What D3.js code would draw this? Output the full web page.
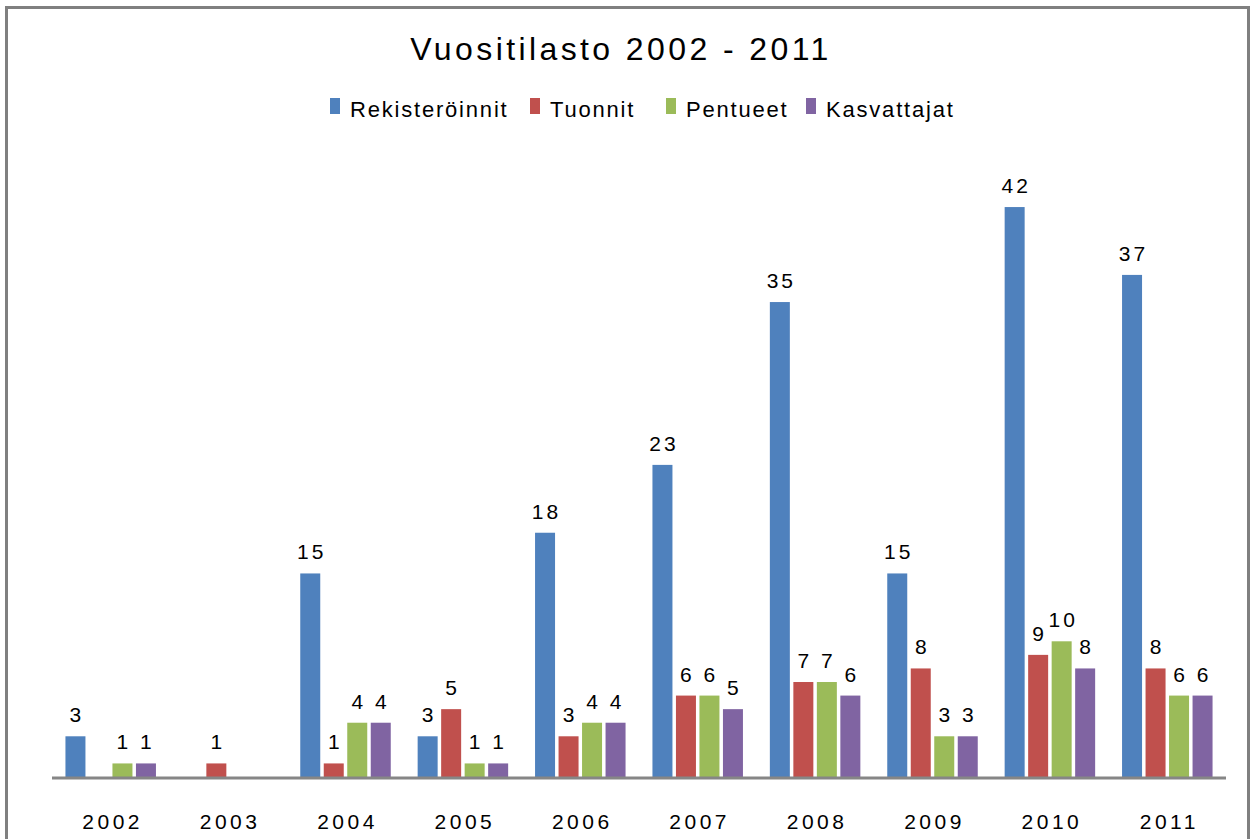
<!DOCTYPE html>
<html>
<head>
<meta charset="utf-8">
<script src="https://cdn.jsdelivr.net/npm/d3@7"></script>
<style>
  body { margin: 0; background: #fff; }
  text { font-family: "Liberation Sans", Arial, sans-serif; fill: #000; }
</style>
</head>
<body>
<div id="viz"></div>
<script>
var width = 1255;
var height = 839;

// data
var years = ["2002", "2003", "2004", "2005", "2006", "2007", "2008", "2009", "2010", "2011"];
var seriesNames = ["Rekisteröinnit", "Tuonnit", "Pentueet", "Kasvattajat"];
var rekisteroinnit = [3, null, 15, 3, 18, 23, 35, 15, 42, 37];
var tuonnit = [null, 1, 1, 5, 3, 6, 7, 8, 9, 8];
var pentueet = [1, null, 4, 1, 4, 6, 7, 3, 10, 6];
var kasvattajat = [1, null, 4, 1, 4, 5, 6, 3, 8, 6];
var colors = ["#4F81BD", "#C0504D", "#9BBB59", "#8064A2"];

var allSeries = [rekisteroinnit, tuonnit, pentueet, kasvattajat];

var svg = d3.select("#viz")
    .append("svg")
    .attr("width", width)
    .attr("height", height);

// frame
svg.append("rect")
    .attr("x", 6.5)
    .attr("y", 7.5)
    .attr("width", 1242)
    .attr("height", 860)
    .attr("fill", "none")
    .attr("stroke", "#808080")
    .attr("stroke-width", 3);

// title
svg.append("text")
    .attr("x", 621)
    .attr("y", 60)
    .attr("text-anchor", "middle")
    .attr("font-size", 32)
    .attr("letter-spacing", 3.4)
    .text("Vuositilasto 2002 - 2011");

// legend
var legendX = [330, 530, 666, 806];
var legend = svg.selectAll("g.legend")
    .data(seriesNames)
    .enter()
    .append("g")
    .attr("class", "legend")
    .attr("transform", function(d, i) { return "translate(" + legendX[i] + ",98)"; });

legend.append("rect")
    .attr("width", 10)
    .attr("height", 16)
    .attr("fill", function(d, i) { return colors[i]; });

legend.append("text")
    .attr("x", 20)
    .attr("y", 19)
    .attr("font-size", 22)
    .attr("letter-spacing", 1.8)
    .text(function(d) { return d; });

// scales
var baseY = 777;
var x0 = d3.scaleBand()
    .domain(years)
    .range([52, 1226])
    .padding(0);

var x1 = d3.scaleBand()
    .domain(seriesNames)
    .range([13.45, 13.45 + 90.5])
    .paddingInner(0.149)
    .paddingOuter(0);

var y = d3.scaleLinear()
    .domain([0, 45])
    .range([baseY, baseY - 45 * 13.57]);

var rows = [];
years.forEach(function(yr, i) {
  seriesNames.forEach(function(s, j) {
    if (allSeries[j][i] != null) {
      rows.push({ year: yr, series: s, idx: j, value: allSeries[j][i] });
    }
  });
});

var bars = svg.append("g");

bars.selectAll("rect")
    .data(rows)
    .enter()
    .append("rect")
    .attr("x", function(d) { return x0(d.year) + x1(d.series); })
    .attr("y", function(d) { return y(d.value); })
    .attr("width", x1.bandwidth())
    .attr("height", function(d) { return baseY - y(d.value); })
    .attr("fill", function(d) { return colors[d.idx]; });

// value labels
bars.selectAll("text")
    .data(rows)
    .enter()
    .append("text")
    .attr("x", function(d) { return x0(d.year) + x1(d.series) + x1.bandwidth() / 2 + 1.5; })
    .attr("y", function(d) { return y(d.value) - 14; })
    .attr("text-anchor", "middle")
    .attr("font-size", 21)
    .attr("letter-spacing", 3)
    .text(function(d) { return d.value; });

// baseline
svg.append("line")
    .attr("x1", 52)
    .attr("x2", 1226)
    .attr("y1", baseY + 1)
    .attr("y2", baseY + 1)
    .attr("stroke", "#868686")
    .attr("stroke-width", 3);

// category labels
svg.append("g")
    .selectAll("text")
    .data(years)
    .enter()
    .append("text")
    .attr("x", function(d) { return x0(d) + x0.bandwidth() / 2 + 2; })
    .attr("y", 829)
    .attr("text-anchor", "middle")
    .attr("font-size", 21)
    .attr("letter-spacing", 3.5)
    .text(function(d) { return d; });
</script>
</body>
</html>
